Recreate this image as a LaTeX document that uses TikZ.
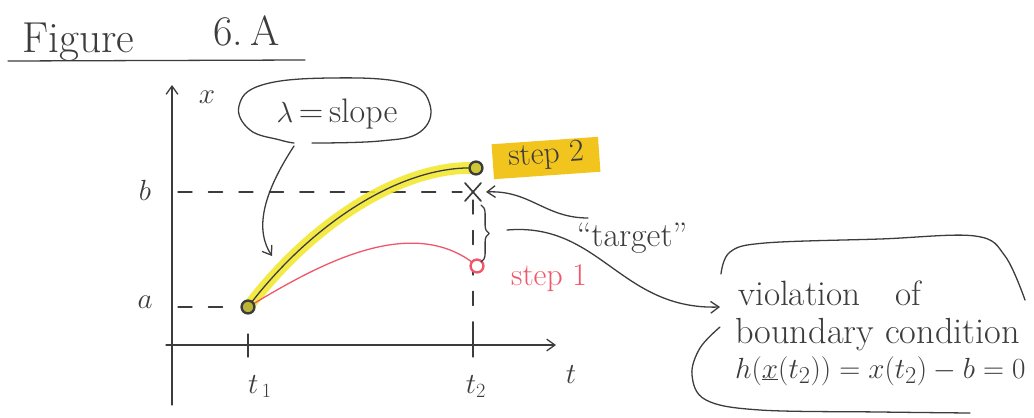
\documentclass[tikz,border=0pt]{standalone}
\usetikzlibrary{arrows.meta,decorations.pathreplacing,calc}
\definecolor{ink}{RGB}{60,60,60}
\definecolor{hlyellow}{RGB}{242,232,50}
\definecolor{hlorange}{RGB}{242,196,30}
\definecolor{redink}{RGB}{240,85,105}
\tikzset{
  hand/.style={font=\fontsize{27}{32}\selectfont, text=ink, inner sep=0pt},
  inkline/.style={draw=ink, line width=1.1pt, line cap=round, line join=round},
  dashline/.style={inkline, dash pattern=on 12pt off 14pt},
  barb/.style={-{Straight Barb[length=7pt,width=10pt]}},
  dot/.style={circle, minimum size=11pt, inner sep=0pt, line width=2pt},
}
\begin{document}
\begin{tikzpicture}[x=0.03cm,y=-0.03cm]
\useasboundingbox (0,0) rectangle (1034,417);
\fill[white] (0,0) rectangle (1034,417);

% title
\node[hand, font=\fontsize{37}{40}\selectfont, anchor=base west] (fig) at (22,52) {Figure};
\node[hand, font=\fontsize{36}{40}\selectfont, anchor=base west] (num) at (213,45) {6.\,A};
\draw[inkline] (8,61) -- (305,60);

% axes
\coordinate (ybot) at (172,405);
\coordinate (ytop) at (172,85);
\coordinate (xleft) at (166,345);
\coordinate (xright) at (556,345);
\draw[inkline, barb] (ybot) -- (ytop);
\draw[inkline, barb] (xleft) -- (xright);
\node[hand] (xlab) at (207,97) {$x$};
\node[hand] (tlab) at (571,375) {$t$};

% ticks and labels
\coordinate (t1) at (248,345);
\coordinate (t2) at (473,345);
\draw[inkline] (248,334) -- (248,357);
\draw[inkline] (473,334) -- (473,357);
\node[hand, anchor=base] (t1lab) at (260,393) {$t_{\,1}$};
\node[hand, anchor=base] (t2lab) at (476,393) {$t_{2}$};
\node[hand] (alab) at (145,302) {$a$};
\node[hand] (blab) at (145,190) {$b$};

% key points
\coordinate (A) at (248,307);
\coordinate (S2) at (476,168);
\coordinate (S1) at (477,266);
\coordinate (tgt) at (473,192);

% dashed guides
\draw[dashline] (178,307) -- (238,307);
\draw[dashline] (178,192) -- (462,192);
\draw[dashline] (473,200) -- (473,335);

% yellow highlight under step 2
\draw[hlyellow, line width=10pt, line cap=round, opacity=0.9]
  (A) .. controls (310,225) and (400,165) .. (S2);

% step 1 (red)
\draw[redink, line width=1.1pt] (A) .. controls (310,270) and (410,210) .. (S1);
% step 2 (black)
\draw[inkline] (A) .. controls (310,225) and (400,165) .. (S2);

\node[dot, draw=ink, fill=hlyellow!70!ink] (pA) at (A) {};
\node[dot, draw=ink, fill=hlyellow!80!ink] (pS2) at (S2) {};
\node[dot, draw=redink, fill=white] (pS1) at (S1) {};

% target cross
\draw[inkline, line width=1.4pt] ($(tgt)+(-8,-9)$) -- ($(tgt)+(8,9)$);
\draw[inkline, line width=1.4pt] ($(tgt)+(-8,9)$) -- ($(tgt)+(8,-9)$);

% step labels
\node[fill=hlorange, rotate=4, minimum width=3.2cm, minimum height=1.05cm, inner sep=0pt] (s2box) at (546,158) {};
\node[hand, rotate=4] (s2lab) at (546,156) {step 2};
\node[hand, text=redink] (s1lab) at (549,278) {step 1};

% target label and arrow
\node[hand, font=\fontsize{29}{32}\selectfont] (tgtlab) at (632,238) {``target''};
\coordinate (tgtfrom) at (588,218);
\draw[inkline, barb] (tgtfrom) .. controls (545,218) and (530,190) .. ($(tgt)+(13,0)$);

% brace
\draw[inkline, decorate, decoration={brace, amplitude=7pt}] (481,205) -- (481,262);
\coordinate (bracetip) at (507,230);

% lambda bubble
\node[hand, font=\fontsize{29}{32}\selectfont] (lam) at (337,114) {$\lambda$\,=\,slope};
\draw[inkline] plot[smooth, tension=0.7] coordinates {
  (312,143) (380,141) (420,132) (430,105) (405,83) (330,78) (262,85) (239,106) (250,130) (280,140) (294,143)};
\coordinate (lamtail) at (294,146);
\coordinate (lamend) at (272,256);
\draw[inkline, barb] (lamtail) .. controls (262,195) and (255,230) .. (lamend);

% violation bubble
\node[hand, font=\fontsize{30}{34}\selectfont, anchor=base west] (viol1) at (738,305) {violation\quad of};
\node[hand, font=\fontsize{31}{34}\selectfont, anchor=base west] (viol2) at (735,343) {boundary condition};
\node[hand, font=\fontsize{29}{34}\selectfont, anchor=base west] (viol3) at (735,378) {$h(\underline{x}(t_2)) = x(t_2) - b = 0$};
\draw[inkline] plot[smooth, tension=0.6] coordinates {
  (721,274) (730,252) (765,243) (880,239) (975,236) (1005,256) (1025,300)};
\draw[inkline] plot[smooth, tension=0.6] coordinates {
  (720,327) (700,348) (692,375) (706,400) (760,410) (880,412) (970,413)};
\coordinate (violin) at (720,307);
\draw[inkline, barb] (bracetip) .. controls (600,222) and (620,310) .. (violin);
\end{tikzpicture}
\end{document}
